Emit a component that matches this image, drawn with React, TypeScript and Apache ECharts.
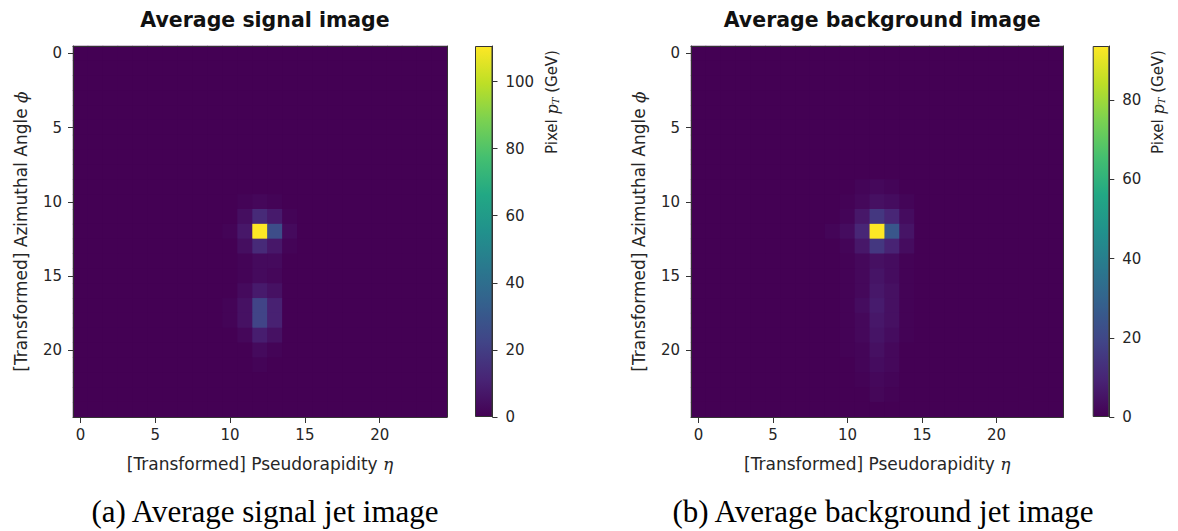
import React, { useEffect, useRef } from "react";
import * as echarts from "echarts";

// ---------- data ----------
const N = 25;
const axisCategories = Array.from({ length: N }, (_, i) => String(i));

const signalMax = 110.6;
const backgroundMax = 93.7;

// [row (phi), col (eta), value in GeV]; all other pixels ~0
const signalCells: number[][] = [
  [10, 11, 1], [10, 12, 2], [10, 13, 1],
  [11, 11, 4], [11, 12, 13], [11, 13, 8], [11, 14, 1],
  [12, 10, 1], [12, 11, 7], [12, 12, 110.6], [12, 13, 26], [12, 14, 3],
  [13, 11, 4], [13, 12, 13], [13, 13, 7], [13, 14, 1],
  [14, 11, 1], [14, 12, 3], [14, 13, 3],
  [15, 11, 1], [15, 12, 3], [15, 13, 2],
  [16, 11, 3], [16, 12, 8], [16, 13, 5],
  [17, 10, 1], [17, 11, 5], [17, 12, 22], [17, 13, 10],
  [18, 10, 1], [18, 11, 5], [18, 12, 22], [18, 13, 10],
  [19, 11, 2], [19, 12, 9], [19, 13, 5],
  [20, 12, 3], [20, 13, 1],
  [21, 12, 1],
];

const backgroundCells: number[][] = [
  [9, 11, 1], [9, 12, 2], [9, 13, 1],
  [10, 10, 0.5], [10, 11, 2], [10, 12, 4], [10, 13, 3], [10, 14, 1],
  [11, 10, 1], [11, 11, 6], [11, 12, 15], [11, 13, 10], [11, 14, 3],
  [12, 9, 1], [12, 10, 3], [12, 11, 10], [12, 12, 93.7], [12, 13, 25], [12, 14, 5],
  [13, 10, 1], [13, 11, 6], [13, 12, 15], [13, 13, 9], [13, 14, 3],
  [14, 10, 0.5], [14, 11, 2], [14, 12, 4], [14, 13, 3], [14, 14, 0.5],
  [15, 10, 0.5], [15, 11, 2], [15, 12, 5], [15, 13, 3], [15, 14, 0.5],
  [16, 10, 0.5], [16, 11, 2], [16, 12, 6], [16, 13, 4], [16, 14, 0.5],
  [17, 10, 0.5], [17, 11, 3], [17, 12, 7], [17, 13, 4], [17, 14, 0.5],
  [18, 10, 0.5], [18, 11, 2], [18, 12, 6], [18, 13, 4], [18, 14, 0.5],
  [19, 10, 0.5], [19, 11, 2], [19, 12, 5], [19, 13, 3], [19, 14, 0.5],
  [20, 10, 0.5], [20, 11, 1], [20, 12, 4], [20, 13, 2],
  [21, 11, 1], [21, 12, 3], [21, 13, 2],
  [22, 11, 0.5], [22, 12, 2], [22, 13, 1],
  [23, 12, 1.5], [23, 13, 0.5],
];

const colorbarTicksSignal = [0, 20, 40, 60, 80, 100];
const colorbarTicksBackground = [0, 20, 40, 60, 80];

const titles = ["Average signal image", "Average background image"];
const captions = ["(a) Average signal jet image", "(b) Average background jet image"];

const viridis = [
  "#440154", "#482475", "#414487", "#355f8d", "#2a788e", "#21918c",
  "#22a884", "#44bf70", "#7ad151", "#bddf26", "#fde725",
];

// ---------- helpers ----------
function fullGrid(cells: number[][]): number[][] {
  const m = new Map<string, number>();
  cells.forEach(([r, c, v]) => m.set(r + "," + c, v));
  const out: number[][] = [];
  for (let r = 0; r < N; r++) {
    for (let c = 0; c < N; c++) {
      out.push([c, r, m.get(r + "," + c) ?? 0]);
    }
  }
  return out;
}

const FONT = "DejaVu Sans";
const TXT = "#262626";
const LINE = "#333333";

const panels = [
  { left: 73, width: 374, cbLeft: 475, cbWidth: 17.5, max: signalMax, ticks: colorbarTicksSignal, cells: signalCells, cbLabelX: 552, captionX: 265 },
  { left: 691, width: 372.5, cbLeft: 1092.7, cbWidth: 16.6, max: backgroundMax, ticks: colorbarTicksBackground, cells: backgroundCells, cbLabelX: 1158, captionX: 883 },
];
const TOP = 46;
const HEIGHT = 371;

export default function App() {
  const ref = useRef<HTMLDivElement>(null);

  useEffect(() => {
    if (!ref.current) return;
    const chart = echarts.init(ref.current, null, { renderer: "svg" });

    const grid: any[] = [];
    const xAxis: any[] = [];
    const yAxis: any[] = [];
    const series: any[] = [];
    const visualMap: any[] = [];
    const title: any[] = [];
    const graphic: any[] = [];

    panels.forEach((p, i) => {
      const gMain = grid.length;
      grid.push({
        left: p.left, top: TOP, width: p.width, height: HEIGHT, containLabel: false,
        show: true, backgroundColor: viridis[0], borderWidth: 0,
      });
      const gBar = grid.length;
      grid.push({ left: p.cbLeft, top: TOP, width: p.cbWidth, height: HEIGHT, containLabel: false });

      const xMain = xAxis.length;
      xAxis.push({
        type: "category",
        gridIndex: gMain,
        data: axisCategories,
        position: "bottom",
        axisLine: { show: true, lineStyle: { color: LINE, width: 1 } },
        axisTick: { show: true, alignWithLabel: true, interval: 4, length: 6, lineStyle: { color: LINE } },
        axisLabel: { interval: 4, fontFamily: FONT, fontSize: 15, color: TXT, margin: 10 },
        splitLine: { show: false },
        name: "[Transformed] Pseudorapidity {i|η}",
        nameLocation: "middle",
        nameGap: 38,
        nameTextStyle: {
          fontFamily: FONT, fontSize: 17, color: TXT,
          rich: { i: { fontFamily: "DejaVu Serif", fontStyle: "italic", fontSize: 17, color: TXT } },
        },
        z: 10,
      });
      xAxis.push({
        type: "category",
        gridIndex: gMain,
        data: axisCategories,
        position: "top",
        axisLine: { show: true, lineStyle: { color: LINE, width: 1 } },
        axisTick: { show: false },
        axisLabel: { show: false },
        z: 10,
      });
      const yMain = yAxis.length;
      yAxis.push({
        type: "category",
        gridIndex: gMain,
        data: axisCategories,
        inverse: true,
        position: "left",
        axisLine: { show: true, lineStyle: { color: LINE, width: 1 } },
        axisTick: { show: true, alignWithLabel: true, interval: 4, length: 5, lineStyle: { color: LINE } },
        axisLabel: { interval: 4, fontFamily: FONT, fontSize: 15, color: TXT, margin: 11 },
        splitLine: { show: false },
        name: "[Transformed] Azimuthal Angle {i|ϕ}",
        nameLocation: "middle",
        nameGap: 44,
        nameTextStyle: {
          fontFamily: FONT, fontSize: 17, color: TXT,
          rich: { i: { fontFamily: "DejaVu Serif", fontStyle: "italic", fontSize: 17, color: TXT } },
        },
        z: 10,
      });
      yAxis.push({
        type: "category",
        gridIndex: gMain,
        data: axisCategories,
        inverse: true,
        position: "right",
        axisLine: { show: true, lineStyle: { color: LINE, width: 1 } },
        axisTick: { show: false },
        axisLabel: { show: false },
        z: 10,
      });

      const sIdx = series.length;
      series.push({
        type: "heatmap",
        xAxisIndex: xMain,
        yAxisIndex: yMain,
        data: fullGrid(p.cells),
        emphasis: { disabled: true },
        itemStyle: { borderWidth: 0 },
        progressive: 0,
      });
      visualMap.push({
        type: "continuous",
        show: false,
        seriesIndex: sIdx,
        min: 0,
        max: p.max,
        dimension: 2,
        inRange: { color: viridis },
      });

      // colorbar axes
      const xBar = xAxis.length;
      xAxis.push({
        type: "category",
        gridIndex: gBar,
        data: ["cb"],
        show: false,
      });
      const yBar = yAxis.length;
      yAxis.push({
        type: "value",
        gridIndex: gBar,
        min: 0,
        max: p.max,
        position: "right",
        axisLine: { show: true, lineStyle: { color: LINE, width: 1 } },
        axisTick: { show: true, length: 5, inside: false, customValues: p.ticks, lineStyle: { color: LINE } },
        axisLabel: { show: true, customValues: p.ticks, fontFamily: FONT, fontSize: 15, color: TXT, margin: 13 },
        splitLine: { show: false },
        z: 10,
      });
      series.push({
        type: "bar",
        xAxisIndex: xBar,
        yAxisIndex: yBar,
        data: [p.max],
        barWidth: "100%",
        silent: true,
        itemStyle: {
          borderColor: LINE,
          borderWidth: 1,
          color: new echarts.graphic.LinearGradient(
            0, 0, 0, 1,
            viridis.slice().reverse().map((c, k) => ({ offset: k / (viridis.length - 1), color: c }))
          ),
        },
      });

      title.push({
        text: titles[i],
        left: p.left + p.width / 2,
        textAlign: "center",
        top: 4,
        textStyle: { fontFamily: FONT, fontWeight: "bold", fontSize: 20.5, color: "#111" },
      });

      graphic.push({
        type: "text",
        x: p.cbLabelX,
        y: 102,
        rotation: Math.PI / 2,
        style: {
          text: "Pixel {i|p}{s|T} (GeV)",
          fontFamily: FONT,
          fontSize: 15,
          fill: TXT,
          align: "center",
          verticalAlign: "middle",
          rich: {
            i: { fontFamily: "DejaVu Serif", fontStyle: "italic", fontSize: 16, fill: TXT },
            s: { fontFamily: "DejaVu Serif", fontStyle: "italic", fontSize: 10, fill: TXT, verticalAlign: "bottom", padding: [6, 0, 0, 0] },
          },
        },
      });

      graphic.push({
        type: "text",
        x: p.captionX,
        y: 511,
        style: {
          text: captions[i],
          fontFamily: "Liberation Serif",
          fontSize: 31,
          fill: "#000",
          align: "center",
          verticalAlign: "middle",
        },
      });
    });

    chart.setOption({
      animation: false,
      backgroundColor: "#ffffff",
      title,
      grid,
      xAxis,
      yAxis,
      visualMap,
      series,
      graphic,
    });

    return () => chart.dispose();
  }, []);

  return (
    <div
      ref={ref}
      style={{ position: "absolute", left: 0, top: 0, width: 1178, height: 531 }}
    />
  );
}
